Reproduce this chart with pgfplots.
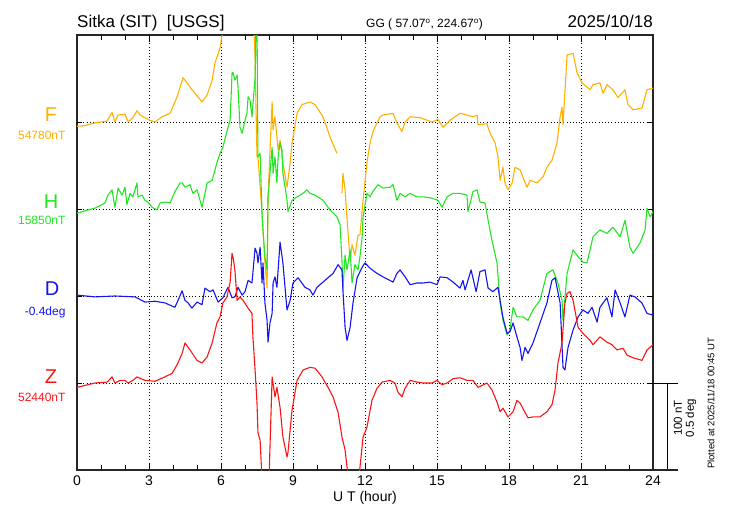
\documentclass[border=0pt]{standalone}
\usepackage{pgfplots}
\pgfplotsset{compat=1.18}
\usepackage{fontspec}
\setmainfont{Liberation Sans}
\definecolor{cF}{RGB}{255,176,0}
\definecolor{cH}{RGB}{34,230,34}
\definecolor{cD}{RGB}{20,20,240}
\definecolor{cZ}{RGB}{250,20,20}
\begin{document}
\begin{tikzpicture}[x=1pt,y=1pt]
\path[use as bounding box] (-77,-50) rectangle (653,470);
\begin{axis}[
 scale only axis, width=576pt, height=435pt,
 at={(0,0)}, anchor=south west,
 xmin=0, xmax=24, ymin=-100, ymax=400,
 xtick={0,3,...,24}, minor x tick num=2,
 ytick=\empty, minor ytick={-80,-60,...,380},
 extra y ticks={0,100,200,300}, extra y tick labels={},
 extra y tick style={grid=major, major tick length=5pt},
 xmajorgrids,
 grid style={black, line width=0.9pt, dash pattern=on 1pt off 2.2pt},
 major tick length=7pt, minor tick length=5pt,
 tick style={black, line width=0.8pt},
 axis line style={line width=1.3pt, black!85},
 ticklabel style={font=\fontsize{14}{14}\selectfont},
 xticklabel style={yshift=-2pt},
 /pgf/number format/assume math mode=true,
 xlabel={U T (hour)}, xlabel style={font=\fontsize{14}{14}\selectfont, yshift=1pt},
 clip mode=individual,
 every axis plot/.append style={line width=1.1pt, line join=round},
]
% F (deviation from 54780 nT), plotted at +300
\addplot[cF] table[y expr=\thisrowno{1}+300] {
0 -5
0.33 -4
0.75 -1
1.25 1
1.46 11
1.58 0
1.71 8
2.0 9
2.13 0
2.33 5
2.5 13
2.63 8
2.83 5
3.04 2
3.25 0
3.54 6
3.88 10
4.17 29
4.42 51
4.71 40
4.92 33
5.21 23
5.42 31
5.63 48
5.75 68
5.96 85
6.08 106
6.375 125
7.0 125
7.375 110
7.42 71
7.5 -40
7.54 -40
7.71 -105
7.83 -162
7.92 -191
7.96 -86
8.13 23
8.17 -9
8.25 6
8.33 -17
8.38 -32
8.46 -21
8.58 -47
8.75 -75
8.88 -47
8.96 -24
9.17 10
9.38 20
9.71 23
9.92 20
10.25 6
10.54 -17
10.83 -36
};
\addplot[cF] table[y expr=\thisrowno{1}+300] {
11.04 -82
11.08 -59
11.17 -78
11.25 -111
11.38 -159
11.46 -141
11.58 -153
11.71 -130
11.79 -130
11.92 -90
12.08 -47
12.21 -24
12.33 -11
12.5 -1
12.63 6
12.75 8
13.17 10
13.33 -1
13.54 -11
13.67 0
13.88 6
14.29 5
14.79 0
15.04 3
15.25 -6
15.54 2
15.96 10
16.25 8
16.5 6
16.67 8
16.71 -3
17.08 -2
17.21 -13
17.42 -24
17.54 -40
17.63 -67
17.75 -52
17.83 -70
17.96 -78
18.13 -70
18.25 -52
18.46 -55
18.75 -75
18.88 -67
19.17 -70
19.42 -63
19.58 -52
19.79 -44
20.0 -24
20.13 6
20.21 17
20.25 -3
20.42 77
20.67 79
20.83 57
21.04 45
21.38 37
21.5 43
21.79 45
21.92 33
22.08 43
22.33 37
22.54 28
22.83 37
22.96 20
23.17 14
23.54 16
23.75 37
24.0 39
};
% H (deviation from 15850 nT), plotted at +200
\addplot[cH] table[y expr=\thisrowno{1}+200] {
0 -5
0.33 -2
0.75 1
1.17 7
1.29 16
1.46 22
1.58 2
1.71 24
1.88 16
2.0 25
2.08 5
2.21 18
2.33 14
2.5 30
2.54 14
2.71 16
2.83 10
2.96 8
3.13 2
3.33 -1
3.46 7
3.67 8
3.88 7
4.08 20
4.29 30
4.38 30
4.5 25
4.71 28
4.83 18
5.0 22
5.21 2
5.42 30
5.63 33
5.83 53
5.96 64
6.08 71
6.29 94
6.38 102
6.46 156
6.5 157
6.58 148
6.67 154
6.71 140
6.79 94
6.88 87
7.0 102
7.08 110
7.13 129
7.21 125
7.29 106
7.42 151
7.46 215
7.5 215
7.54 60
7.63 64
7.71 -5
7.75 -24
7.83 -55
7.92 -70
7.96 14
8.13 71
8.17 41
8.25 60
8.33 30
8.38 60
8.46 76
8.54 68
8.58 41
8.67 25
8.75 10
8.79 -3
8.96 10
9.17 14
9.42 18
9.58 22
9.71 18
9.92 16
10.25 10
10.54 -1
10.83 -9
10.96 -18
11.04 -59
11.08 -93
11.17 -53
11.25 -70
11.38 -47
11.46 -85
11.58 -64
11.71 -70
11.79 -55
11.88 -32
11.92 -9
12.08 18
12.21 14
12.33 20
12.54 28
12.75 24
13.04 25
13.17 28
13.33 10
13.46 18
13.67 14
13.88 18
14.17 14
14.42 14
14.71 13
15.04 10
15.21 2
15.42 14
15.67 18
15.96 18
16.25 16
16.29 -3
16.5 20
16.67 22
16.79 8
17.0 7
17.13 -13
17.29 -36
17.5 -62
17.63 -108
17.75 -128
17.92 -145
18.04 -139
18.17 -113
18.33 -124
18.58 -124
18.79 -128
19.0 -116
19.29 -105
19.58 -74
19.83 -70
20.04 -85
20.21 -105
20.25 -128
20.42 -74
20.67 -47
20.88 -55
21.08 -61
21.25 -62
21.5 -32
21.79 -24
22.08 -28
22.33 -21
22.63 -32
22.83 -13
23.04 -44
23.17 -51
23.46 -39
23.67 -24
23.75 1
23.88 -9
24.0 -3
};
% D (deviation from -0.4 deg, 100 units = 0.5 deg), plotted at +100
\addplot[cD] table[y expr=\thisrowno{1}+100] {
0 1
0.75 -1
1.58 0
2.42 -1
2.83 -7
3.25 -6
3.67 -8
4.08 -13
4.21 -5
4.38 6
4.5 -5
4.63 -8
4.79 -14
5.0 -7
5.21 -10
5.33 9
5.54 5
5.67 7
5.88 -7
6.08 -2
6.29 10
6.46 -2
6.58 -1
6.71 10
6.88 1
7.0 5
7.13 18
7.29 15
7.42 55
7.5 49
7.54 38
7.63 56
7.71 15
7.75 38
7.83 -8
7.92 -28
7.96 -53
8.04 -31
8.13 -20
8.17 15
8.25 22
8.33 10
8.46 62
8.58 38
8.75 -16
8.88 -5
9.0 15
9.21 21
9.5 10
9.71 7
9.83 1
10.0 10
10.25 16
10.46 21
10.67 26
10.88 36
11.04 30
11.08 7
11.17 -36
11.25 -51
11.38 -36
11.5 -8
11.67 21
11.88 33
12.0 38
12.21 32
12.5 26
12.75 22
13.17 16
13.33 26
13.46 30
13.67 22
13.88 13
14.17 15
14.42 15
14.71 16
15.0 13
15.13 22
15.42 21
15.67 16
15.96 9
16.08 18
16.17 7
16.42 30
16.63 5
16.79 28
17.0 30
17.13 9
17.33 5
17.54 10
17.75 -25
17.92 -43
18.04 -41
18.17 -31
18.33 -47
18.46 -59
18.54 -74
18.67 -59
18.79 -66
19.0 -54
19.29 -31
19.58 -8
19.79 18
19.92 21
20.13 -8
20.25 -82
20.33 -85
20.46 -59
20.67 -39
20.88 -24
21.08 -16
21.29 -20
21.46 -13
21.67 -30
21.79 -13
22.08 -2
22.29 -24
22.42 7
22.63 -8
22.83 -24
23.04 1
23.25 -1
23.54 -8
23.75 -20
24.0 -22
};
% Z (deviation from 52440 nT)
\addplot[cZ] table {
0 -5
0.75 0
1.25 1
1.46 7
1.58 0
1.79 3
2.0 3
2.13 0
2.33 3
2.5 7
2.83 3
3.25 2
3.58 6
3.96 11
4.17 21
4.38 34
4.5 46
4.71 38
5.0 26
5.21 23
5.42 30
5.63 46
5.83 69
5.96 76
6.08 92
6.25 99
6.38 116
6.46 149
6.5 145
6.58 130
6.67 95
6.79 99
6.92 95
7.13 86
7.29 80
7.33 53
7.42 15
7.5 -23
7.54 -57
7.63 -66
7.71 -111
7.88 -134
8.0 -111
8.13 7
8.25 -16
8.33 -5
8.46 -28
8.58 -62
8.75 -85
8.79 -80
8.96 -31
9.17 3
9.42 15
9.71 18
9.92 17
10.21 7
10.46 -5
10.67 -16
10.88 -34
11.04 -62
11.17 -77
11.29 -106
11.46 -134
11.67 -123
11.79 -97
11.92 -62
12.08 -51
12.29 -20
12.5 -6
12.71 1
13.04 3
13.25 0
13.38 -11
13.54 -16
13.67 -6
13.88 3
14.17 1
14.42 0
14.79 0
15.0 3
15.21 -2
15.42 0
15.67 5
15.96 6
16.25 3
16.5 3
16.71 -5
17.08 0
17.29 -8
17.5 -22
17.63 -33
17.75 -29
17.96 -39
18.17 -33
18.33 -20
18.46 -23
18.67 -34
18.79 -40
19.0 -39
19.29 -39
19.58 -33
19.79 -25
19.92 -8
20.04 23
20.21 46
20.33 92
20.42 103
20.54 105
20.67 95
20.88 64
21.08 57
21.38 49
21.5 44
21.79 53
22.08 47
22.29 44
22.5 38
22.75 40
22.92 32
23.17 29
23.54 26
23.75 38
24.0 44
};
\end{axis}
% component labels
\node[cF, font=\fontsize{20}{20}\selectfont] at (-26,355) {F};
\node[cF, font=\fontsize{12}{12}\selectfont, anchor=base east] at (-8,330.5) {54780nT};
\node[cH, font=\fontsize{20}{20}\selectfont] at (-26,268) {H};
\node[cH, font=\fontsize{12}{12}\selectfont, anchor=base east] at (-8,246) {15850nT};
\node[cD, font=\fontsize{20}{20}\selectfont] at (-25,181) {D};
\node[cD, font=\fontsize{12}{12}\selectfont, anchor=base east] at (-8,155) {-0.4deg};
\node[cZ, font=\fontsize{20}{20}\selectfont] at (-26,93) {Z};
\node[cZ, font=\fontsize{12}{12}\selectfont, anchor=base east] at (-8,68.5) {52440nT};
% titles
\node[font=\fontsize{17}{17}\selectfont, anchor=base west, inner sep=0pt] at (0,442) {Sitka (SIT)\ \ [USGS]};
\node[font=\fontsize{12}{12}\selectfont, anchor=base west, inner sep=0pt] at (289,442) {GG ( 57.07\textsuperscript{o}, 224.67\textsuperscript{o})};
\node[font=\fontsize{17}{17}\selectfont, anchor=base east, inner sep=0pt] at (576,442) {2025/10/18};
% scale bar
\draw[line width=1pt] (576,87) -- (601,87);
\draw[line width=1pt] (590,87) -- (590,0);
\draw[line width=1.3pt, black!85] (576,0) -- (601,0);
\node[rotate=90, align=center, font=\fontsize{11.5}{12}\selectfont, inner sep=0pt] at (608,52) {100 nT\\0.5 deg};
\node[rotate=90, anchor=west, font=\fontsize{9.5}{10}\selectfont, inner sep=0pt] at (634,1) {Plotted at 2025/11/18 00:45 UT};
\end{tikzpicture}
\end{document}
